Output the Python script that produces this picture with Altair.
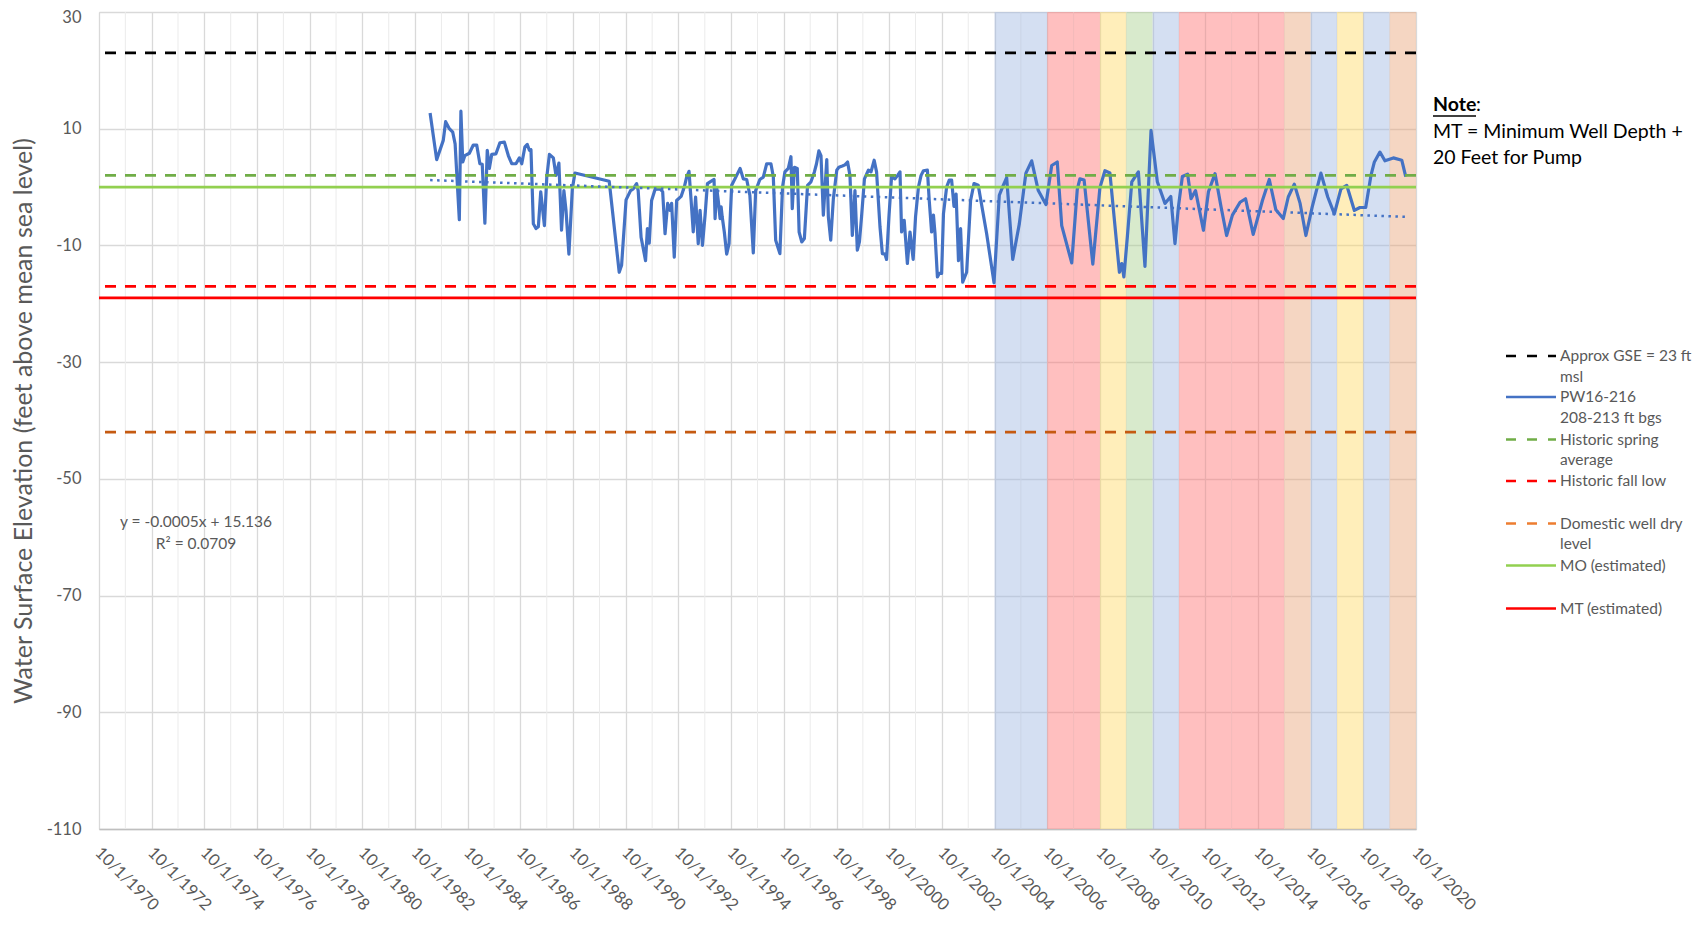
import altair as alt
import pandas as pd

# ---------------- data ----------------
pw_year = [
    1983.32, 1983.57, 1983.82, 1983.91, 1984.05, 1984.18, 1984.27, 1984.43, 1984.49, 1984.56,
    1984.64, 1984.81, 1984.96, 1985.09, 1985.21, 1985.30, 1985.40, 1985.49, 1985.57, 1985.66,
    1985.82, 1985.97, 1986.14, 1986.29, 1986.42, 1986.58, 1986.71, 1986.80, 1986.92, 1987.01,
    1987.09, 1987.15, 1987.24, 1987.34, 1987.43, 1987.52, 1987.66, 1987.75, 1987.85, 1988.00,
    1988.10, 1988.21, 1988.31, 1988.40, 1988.48, 1988.59, 1988.72, 1988.82, 1990.12, 1990.50,
    1990.59, 1990.76, 1990.93, 1991.03, 1991.16, 1991.22, 1991.33, 1991.50, 1991.57, 1991.64,
    1991.73, 1991.86, 1992.05, 1992.15, 1992.24, 1992.34, 1992.43, 1992.49, 1992.59, 1992.68,
    1992.85, 1992.97, 1993.06, 1993.15, 1993.23, 1993.31, 1993.40, 1993.50, 1993.57, 1993.66,
    1993.76, 1993.85, 1993.95, 1994.10, 1994.14, 1994.20, 1994.26, 1994.33, 1994.37, 1994.41,
    1994.49, 1994.58, 1994.67, 1994.77, 1994.96, 1995.09, 1995.21, 1995.34, 1995.46, 1995.59,
    1995.68, 1995.84, 1995.97, 1996.10, 1996.26, 1996.35, 1996.44, 1996.60, 1996.70, 1996.79,
    1996.92, 1997.02, 1997.07, 1997.15, 1997.26, 1997.33, 1997.43, 1997.53, 1997.65, 1997.78,
    1997.91, 1997.99, 1998.08, 1998.16, 1998.25, 1998.38, 1998.44, 1998.53, 1998.63, 1998.76,
    1998.84, 1998.97, 1999.07, 1999.17, 1999.26, 1999.35, 1999.45, 1999.54, 1999.62, 1999.70,
    1999.81, 1999.96, 2000.06, 2000.18, 2000.27, 2000.40, 2000.49, 2000.59, 2000.65, 2000.74,
    2000.84, 2000.97, 2001.07, 2001.16, 2001.22, 2001.32, 2001.44, 2001.54, 2001.66, 2001.75,
    2001.86, 2001.96, 2002.05, 2002.20, 2002.27, 2002.36, 2002.43, 2002.49, 2002.58, 2002.65,
    2002.74, 2002.81, 2002.93, 2003.03, 2003.12, 2003.21, 2003.29, 2003.38, 2003.46, 2003.54,
    2003.69, 2003.84, 2003.97, 2004.13, 2004.45, 2004.73, 2004.93, 2005.08, 2005.21, 2005.44,
    2005.69, 2005.94, 2006.16, 2006.41, 2006.70, 2006.92, 2007.13, 2007.30, 2007.68, 2007.89,
    2007.99, 2008.15, 2008.48, 2008.75, 2008.94, 2009.13, 2009.32, 2009.49, 2009.58, 2009.66,
    2009.79, 2009.96, 2010.21, 2010.46, 2010.69, 2010.93, 2011.22, 2011.44, 2011.60, 2011.73,
    2011.88, 2012.08, 2012.21, 2012.38, 2012.68, 2012.87, 2013.12, 2013.35, 2013.56, 2013.78,
    2014.07, 2014.28, 2014.57, 2014.92, 2015.18, 2015.43, 2015.71, 2015.90, 2016.13, 2016.35,
    2016.57, 2016.81, 2017.14, 2017.40, 2017.65, 2017.90, 2018.12, 2018.41, 2018.62, 2018.84,
    2019.04, 2019.17, 2019.38, 2019.57, 2019.89, 2020.21, 2020.36,
]
pw_elev = [
    12.7, 4.7, 8.0, 11.2, 10.0, 9.4, 7.4, -5.6, 13.0, 4.3,
    5.4, 5.8, 7.2, 7.2, 4.0, 3.9, -6.2, 6.3, 3.2, 5.6,
    5.7, 7.6, 7.7, 5.4, 4.0, 4.0, 5.0, 4.0, 6.9, 7.3,
    6.3, 6.4, -6.3, -7.1, -6.8, -0.8, -6.6, 1.7, 5.6, 5.0,
    2.0, 4.1, -7.4, -0.6, -4.0, -11.5, -0.3, 2.4, 1.0, -14.6,
    -13.4, -2.2, -0.6, -0.3, 0.6, -0.6, -8.6, -12.6, -7.1, -9.6,
    -2.3, -0.4, -0.3, -0.8, -8.0, -2.8, -4.0, -2.8, -12.0, -2.3,
    -1.6, 0.0, 1.7, 2.7, -2.3, -7.7, -1.7, -9.7, -4.0, -10.0,
    -4.8, 0.6, 0.9, 1.3, -5.4, -0.1, -2.3, -5.4, -3.4, -5.1,
    -7.7, -11.5, -9.7, 0.3, 2.0, 3.2, 1.4, 1.3, -1.4, -11.3,
    -0.6, 1.3, 1.7, 4.0, 4.0, 1.8, -9.1, -11.4, 0.0, 2.6,
    3.2, 5.2, -3.7, 3.4, 3.2, -7.7, -9.4, -8.8, 0.3, 0.9,
    2.6, 4.0, 6.2, 5.4, -4.8, 4.7, -5.1, -9.1, -2.0, 2.9,
    3.4, 3.6, 3.8, 4.3, 2.0, -8.3, -0.6, -10.8, -9.4, -5.1,
    1.4, 2.9, 2.6, 4.6, 2.6, -6.8, -11.4, -11.5, -12.4, -5.1,
    1.8, 1.4, 2.0, 2.6, -7.7, -5.7, -13.1, -7.7, -12.4, -5.1,
    0.0, 2.0, 2.8, 2.9, -2.3, -7.7, -4.8, -8.0, -15.4, -14.8,
    -14.8, -4.6, 0.0, 1.2, 1.2, -3.3, -1.2, -12.6, -7.1, -16.3,
    -14.6, -2.3, 0.6, 0.3, -8.0, -16.4, -1.4, 0.3, 1.6, -12.4,
    -6.3, 2.4, 4.5, -0.6, -3.0, 3.7, 4.3, -6.6, -13.0, -0.4,
    1.4, 1.2, -13.2, -0.1, 2.8, 2.4, -6.6, -14.6, -13.1, -15.4,
    -8.6, 0.9, 2.6, -13.6, 9.7, 0.9, -2.8, -1.6, -9.7, -3.4,
    1.8, 2.2, -2.0, -0.6, -7.4, -0.8, 2.3, -3.4, -8.3, -4.8,
    -2.6, -2.0, -8.1, -2.3, 1.3, -3.9, -5.4, -1.7, 0.5, -2.8,
    -8.3, -3.4, 2.4, -1.7, -4.6, -0.3, 0.3, -4.0, -3.5, -3.5,
    2.0, 4.3, 6.0, 4.5, 5.0, 4.6, 1.8,
]

# linear trend line end points (as drawn in the reference)
trend_year = [1983.32, 2020.36]
trend_elev = [1.2, -5.1]
trend_label = ["y = -0.0005x + 15.136", "R\u00b2 = 0.0709"]

# horizontal reference levels
ref_names = ["Approx GSE = 23 ft msl", "Historic spring average", "Historic fall low",
             "Domestic well dry level", "MO (estimated)", "MT (estimated)"]
ref_values = [23, 2, -17, -42, 0, -19]
ref_colors = ["#000000", "#70ad47", "#ff0000", "#c55a11", "#92d050", "#ff0000"]
ref_dashed = [True, True, True, True, False, False]

# water-year background bands (start / end of each water year)
band_start = [2004.75, 2005.75, 2006.75, 2007.75, 2008.75, 2009.75, 2010.75, 2011.75,
              2012.75, 2013.75, 2014.75, 2015.75, 2016.75, 2017.75, 2018.75, 2019.75]
band_end = [2005.75, 2006.75, 2007.75, 2008.75, 2009.75, 2010.75, 2011.75, 2012.75,
            2013.75, 2014.75, 2015.75, 2016.75, 2017.75, 2018.75, 2019.75, 2020.75]
band_color = ["#9fb8e3", "#9fb8e3", "#ff7070", "#ff7070", "#ffd966", "#a9d18e", "#9fb8e3",
              "#ff7070", "#ff7070", "#ff7070", "#ff7070", "#e9a477", "#9fb8e3", "#ffd966",
              "#9fb8e3", "#e9a477"]

# axis ticks
x_major = [1970.75 + 2 * i for i in range(26)]        # 10/1/1970 ... 10/1/2020
x_minor = [1971.75 + 2 * i for i in range(25)]
y_ticks = [30, 10, -10, -30, -50, -70, -90, -110]

# legend entries: (lines of text, colour, dashed)
legend_lines = [["Approx GSE = 23 ft", "msl"], ["PW16-216", "208-213 ft bgs"],
                ["Historic spring", "average"], ["Historic fall low"],
                ["Domestic well dry", "level"], ["MO (estimated)"], ["MT (estimated)"]]
legend_colors = ["#000000", "#4472c4", "#70ad47", "#ff0000", "#ed7d31", "#92d050", "#ff0000"]
legend_dashed = [True, False, True, True, True, False, False]

# ---------------- chart ----------------
FONT = "Lato"
GREY = "#595959"
W, H = 1317, 817

xs = alt.Scale(domain=[1970.75, 2020.75], nice=False, zero=False)
ys = alt.Scale(domain=[-110, 30], nice=False, zero=False)

pw_df = pd.DataFrame({"year": pw_year, "elev": pw_elev})
trend_df = pd.DataFrame({"year": trend_year, "elev": trend_elev})
band_df = pd.DataFrame({"start": band_start, "end": band_end, "color": band_color})
minor_df = pd.DataFrame({"year": x_minor})

layers = []

# invisible layer carrying both axes (first, so its settings win)
layers.append(
    alt.Chart(pw_df).mark_line(opacity=0).encode(
        x=alt.X(
            "year:Q", scale=xs,
            axis=alt.Axis(
                values=x_major, title=None,
                labelExpr="'10/1/' + format(datum.value - 0.75, 'd')",
                labelAngle=45, labelAlign="left", labelBaseline="top",
                labelPadding=15, labelOffset=4,
                labelFont=FONT, labelFontSize=16.5, labelColor=GREY,
                labelOverlap=False, labelFlush=False,
                grid=True, gridColor="#d9d9d9", gridWidth=1.3,
                ticks=False, domainColor="#bfbfbf", domainWidth=1.5,
            ),
        ),
        y=alt.Y(
            "elev:Q", scale=ys,
            axis=alt.Axis(
                values=y_ticks,
                labelExpr="toString(datum.value)",
                title="Water Surface Elevation (feet above mean sea level)",
                titleFont=FONT, titleFontSize=25, titleFontWeight="normal", titleColor=GREY,
                titleAngle=270, titleX=-76, titleY=H / 2, titleAlign="center",
                titleBaseline="middle",
                labelFont=FONT, labelFontSize=16.5, labelColor=GREY, labelPadding=18,
                labelOffset={"expr": "datum.value == 30 ? 5.5 : 0"},
                labelFlush=False,
                grid=True, gridColor="#d9d9d9", gridWidth=1.3,
                ticks=False, domain=False,
            ),
        ),
    )
)

# minor vertical gridlines
layers.append(
    alt.Chart(minor_df).mark_rule(color="#ebebeb", strokeWidth=1).encode(
        x=alt.X("year:Q", scale=xs)
    )
)

# water-year bands
layers.append(
    alt.Chart(band_df).mark_rect(opacity=0.45).encode(
        x=alt.X("start:Q", scale=xs),
        x2="end:Q",
        color=alt.Color("color:N", scale=None),
    )
)


def ref_layer(i):
    df = pd.DataFrame({"elev": [ref_values[i]]})
    kw = dict(color=ref_colors[i], strokeWidth=2.7)
    if ref_dashed[i]:
        kw["strokeDash"] = [11, 9]
    return alt.Chart(df).mark_rule(**kw).encode(y=alt.Y("elev:Q", scale=ys))


# GSE line first (under the hydrograph)
layers.append(ref_layer(0))

# hydrograph
layers.append(
    alt.Chart(pw_df).mark_line(color="#4472c4", strokeWidth=3.2, strokeJoin="round").encode(
        x=alt.X("year:Q", scale=xs),
        y=alt.Y("elev:Q", scale=ys),
    )
)

for i in range(1, len(ref_values)):
    layers.append(ref_layer(i))

# trend line
layers.append(
    alt.Chart(trend_df).mark_line(color="#4472c4", strokeWidth=2.5, strokeDash=[2.5, 4.5]).encode(
        x=alt.X("year:Q", scale=xs),
        y=alt.Y("elev:Q", scale=ys),
    )
)

# trend equation
for j, txt in enumerate(trend_label):
    layers.append(
        alt.Chart(pd.DataFrame({"t": [txt]})).mark_text(
            font=FONT, fontSize=15.5, color=GREY, align="center", baseline="middle"
        ).encode(x=alt.value(97), y=alt.value(510 + 21.5 * j), text="t:N")
    )

# note
note_df = pd.DataFrame({"t": ["Note"]})
layers.append(
    alt.Chart(note_df).mark_text(font=FONT, fontSize=19.5, fontWeight="bold", color="#000000",
                                 align="left", baseline="middle").encode(
        x=alt.value(1334), y=alt.value(93), text="t:N")
)
layers.append(
    alt.Chart(pd.DataFrame({"t": [":"]})).mark_text(font=FONT, fontSize=19.5, color="#000000",
                                                     align="left", baseline="middle").encode(
        x=alt.value(1377), y=alt.value(93), text="t:N")
)
layers.append(
    alt.Chart(note_df).mark_rule(color="#000000", strokeWidth=1.4).encode(
        x=alt.value(1334), x2=alt.value(1377), y=alt.value(104))
)
for j, txt in enumerate(["MT = Minimum Well Depth +", "20 Feet for Pump"]):
    layers.append(
        alt.Chart(pd.DataFrame({"t": [txt]})).mark_text(
            font=FONT, fontSize=19.5, color="#000000", align="left", baseline="middle"
        ).encode(x=alt.value(1334), y=alt.value(120 + 26 * j), text="t:N")
    )

# legend
legend_y = [344, 385, 427.5, 469, 511.5, 553.5, 596.5]
for k, lines in enumerate(legend_lines):
    y0 = legend_y[k]
    kw = dict(color=legend_colors[k], strokeWidth=2.6)
    if legend_dashed[k]:
        kw["strokeDash"] = [10, 11]
    layers.append(
        alt.Chart(pd.DataFrame({"t": [lines[0]]})).mark_rule(**kw).encode(
            x=alt.value(1407), x2=alt.value(1457), y=alt.value(y0))
    )
    for j, txt in enumerate(lines):
        layers.append(
            alt.Chart(pd.DataFrame({"t": [txt]})).mark_text(
                font=FONT, fontSize=15.5, color=GREY, align="left", baseline="middle"
            ).encode(x=alt.value(1461), y=alt.value(y0 + 20.5 * j), text="t:N")
        )

chart = alt.layer(*layers).properties(
    width=W, height=H,
    padding={"left": 91, "top": 4, "right": 281, "bottom": 93},
    autosize=alt.AutoSizeParams(type="none"),
).configure_view(strokeWidth=0).configure(background="#ffffff")

chart.save("out.html", embed_options={"renderer": "svg", "actions": False})
